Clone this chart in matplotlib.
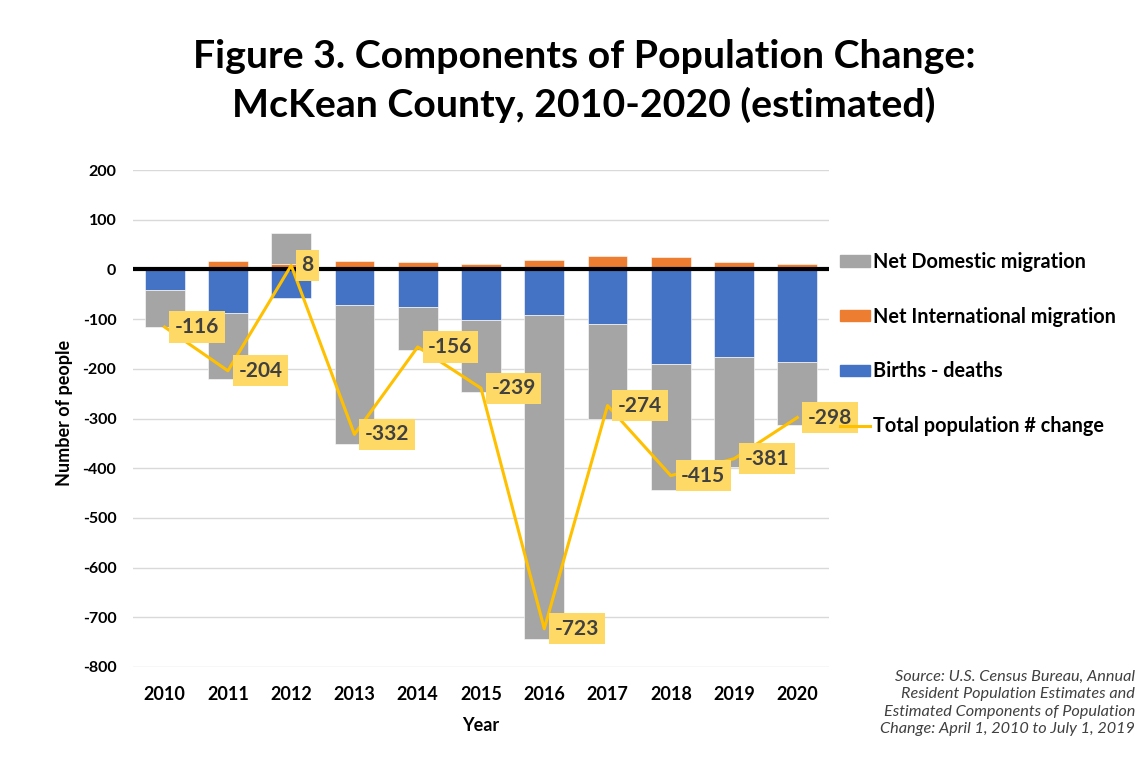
import matplotlib
matplotlib.use("Agg")
import matplotlib.pyplot as plt
from matplotlib.patches import Patch
from matplotlib.lines import Line2D
import numpy as np

plt.rcParams['font.family'] = ['Lato', 'DejaVu Sans']

years = ["2010", "2011", "2012", "2013", "2014", "2015", "2016", "2017", "2018", "2019", "2020"]
births_deaths = [-42, -87, -57, -72, -76, -102, -92, -109, -191, -176, -187]
net_international = [0, 17, 11, 17, 14, 11, 19, 27, 25, 14, 11]
net_domestic = [-74, -134, 62, -280, -86, -145, -652, -192, -253, -222, -126]
total_change = [-116, -204, 8, -332, -156, -239, -723, -274, -415, -381, -298]
y_ticks = [200, 100, 0, -100, -200, -300, -400, -500, -600, -700, -800]

C_GRAY = "#A5A5A5"
C_ORANGE = "#ED7D31"
C_BLUE = "#4472C4"
C_GOLD = "#FFC000"
C_LABEL = "#FFD966"

fig = plt.figure(figsize=(11.44, 7.63), dpi=100)
ax = fig.add_axes([133/1144, 1-667/763, (829-133)/1144, (667-170)/763])

x = np.arange(len(years))
w = 0.63
bd = np.array(births_deaths)
ni = np.array(net_international)
nd = np.array(net_domestic)
dom_bottom = np.where(nd < 0, bd, ni)

ax.bar(x, bd, w, color=C_BLUE, edgecolor="white", linewidth=0.4, zorder=2)
ax.bar(x, ni, w, color=C_ORANGE, edgecolor="white", linewidth=0.4, zorder=2)
ax.bar(x, nd, w, bottom=dom_bottom, color=C_GRAY, edgecolor="white", linewidth=0.4, zorder=2)

ax.axhline(0, color="black", linewidth=3, zorder=3)
ax.plot(x, total_change, color=C_GOLD, linewidth=2.2, zorder=4)

for xi, v in zip(x, total_change):
    ax.annotate(str(v), xy=(xi, v), xytext=(7.5, 0), textcoords="offset points",
                ha="left", va="center", fontsize=15, color="#404040",
                fontweight="bold",
                bbox=dict(boxstyle="square,pad=0.27", fc=C_LABEL, ec="none"),
                zorder=5)

ax.set_xlim(-0.5, len(years) - 0.5)
ax.set_ylim(-800, 200)
ax.set_yticks(y_ticks)
ax.set_yticklabels([str(t) for t in y_ticks], fontsize=11.5, fontweight="bold")
ax.set_xticks(x)
ax.set_xticklabels(years, fontsize=13, fontweight="bold")
ax.tick_params(length=0)
ax.tick_params(axis="x", pad=14)
ax.tick_params(axis="y", pad=12)
ax.grid(axis="y", color="#D9D9D9", linewidth=1, zorder=0)
ax.set_axisbelow(True)
for s in ax.spines.values():
    s.set_visible(False)

ax.set_ylabel("Number of people", fontsize=13, fontweight="bold")
ax.yaxis.set_label_coords((73-133)/696, 1-(413-170)/497)
ax.set_xlabel("Year", fontsize=13, fontweight="bold", labelpad=10)

fig.text(584/1144, 1-57/763, "Figure 3. Components of Population Change:", ha="center", va="center",
         fontsize=28.3, fontweight="bold")
fig.text(584/1144, 1-105/763, "McKean County, 2010-2020 (estimated)", ha="center", va="center",
         fontsize=28.3, fontweight="bold")

handles = [Patch(color=C_GRAY), Patch(color=C_ORANGE), Patch(color=C_BLUE),
           Line2D([0], [0], color=C_GOLD, linewidth=2.2)]
labels = ["Net Domestic migration", "Net International migration", "Births - deaths",
          "Total population # change"]
leg = fig.legend(handles, labels, loc="upper left", bbox_to_anchor=(832/1144, 1-244/763),
                 frameon=False, fontsize=14.3, handlelength=1.5, handleheight=0.5,
                 handletextpad=0.15, labelspacing=1.75, borderaxespad=0)
for t in leg.get_texts():
    t.set_fontweight("bold")
leg.set_zorder(10)

src = ("Source: U.S. Census Bureau, Annual\nResident Population Estimates and\n"
       "Estimated Components of Population\nChange: April 1, 2010 to July 1, 2019")
fig.text(1135/1144, 1-703/763, src, ha="right", va="center", fontsize=11.7, style="italic",
         color="#404040", linespacing=1.3)

fig.savefig("out.png", dpi=100)
